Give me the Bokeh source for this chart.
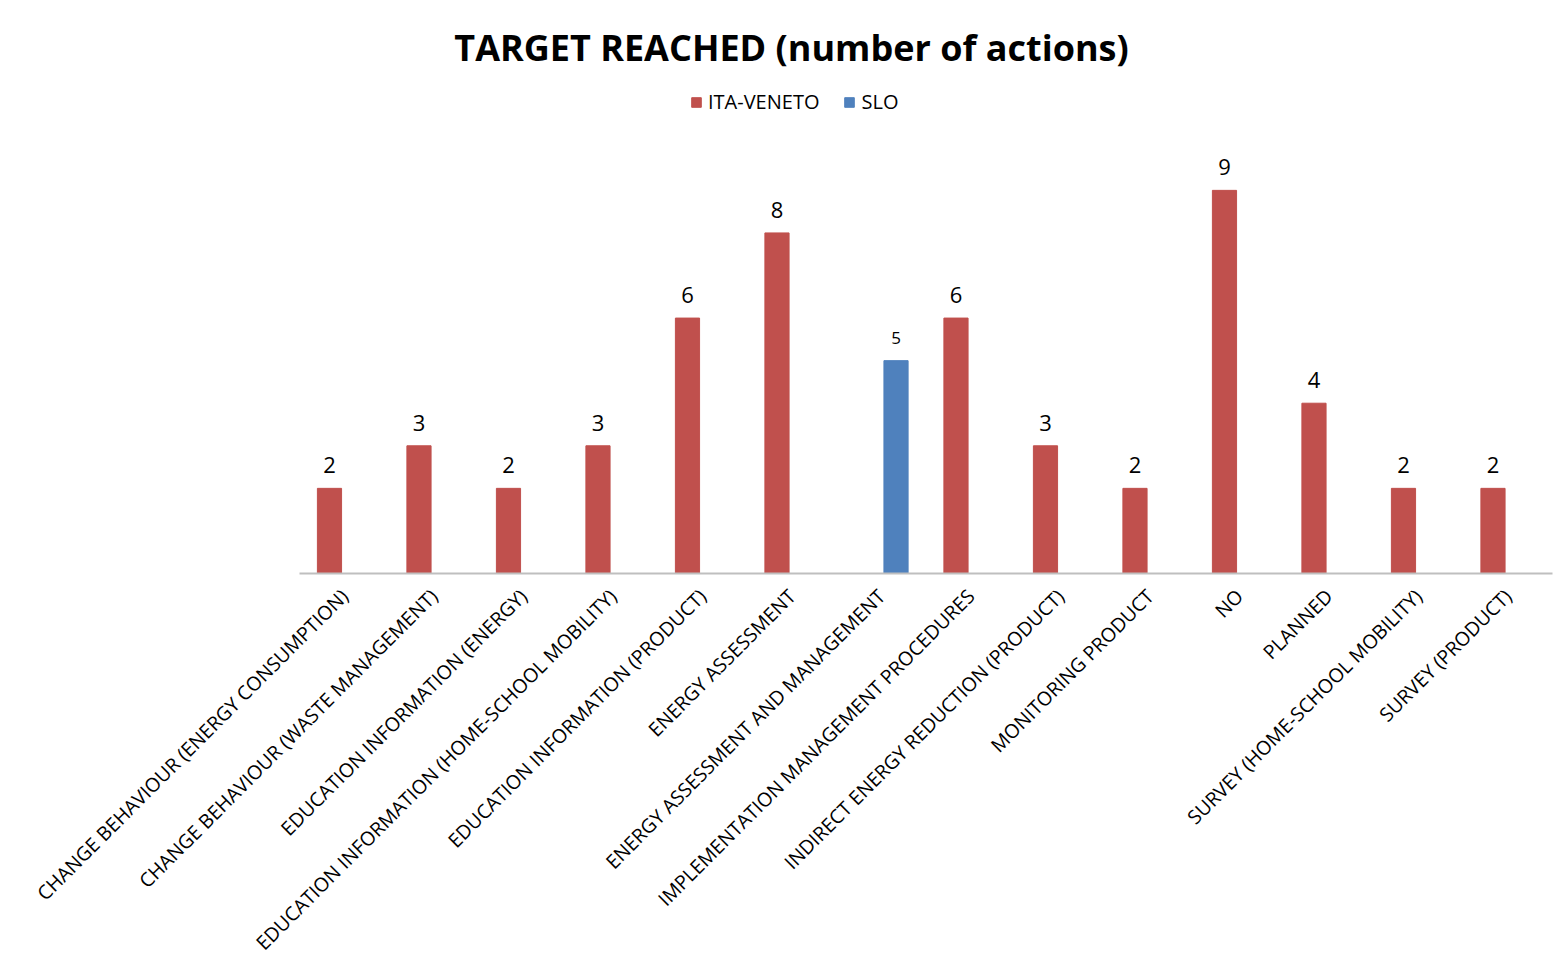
import math
from bokeh.plotting import figure
from bokeh.models import ColumnDataSource, LabelSet, Label, Legend, LegendItem, FactorRange
from bokeh.transform import dodge
from bokeh.core.properties import value
from bokeh.embed import file_html
from bokeh.resources import INLINE

# ---- data ----
categories = [
    "CHANGE BEHAVIOUR (ENERGY CONSUMPTION)",
    "CHANGE BEHAVIOUR (WASTE MANAGEMENT)",
    "EDUCATION INFORMATION (ENERGY)",
    "EDUCATION INFORMATION (HOME-SCHOOL MOBILITY)",
    "EDUCATION INFORMATION (PRODUCT)",
    "ENERGY ASSESSMENT",
    "ENERGY ASSESSMENT AND MANAGEMENT",
    "IMPLEMENTATION MANAGEMENT PROCEDURES",
    "INDIRECT ENERGY REDUCTION (PRODUCT)",
    "MONITORING PRODUCT",
    "NO",
    "PLANNED",
    "SURVEY (HOME-SCHOOL MOBILITY)",
    "SURVEY (PRODUCT)",
]
ita_veneto = [2, 3, 2, 3, 6, 8, None, 6, 3, 2, 9, 4, 2, 2]
slo = [None, None, None, None, None, None, 5, None, None, None, None, None, None, None]

series_names = ["ITA-VENETO", "SLO"]
series_colors = ["#C0504D", "#4F81BD"]
title_text = "TARGET REACHED (number of actions)"
y_top = 13.46  # value axis (0..10) plus room above it for title and legend


def make_source(vals):
    cats = [c for c, v in zip(categories, vals) if v is not None]
    vs = [v for v in vals if v is not None]
    return ColumnDataSource(dict(cat=cats, val=vs, txt=[str(v) for v in vs]))


src_ita = make_source(ita_veneto)
src_slo = make_source(slo)

FONT = "Open Sans"

p = figure(
    x_range=FactorRange(*categories),
    y_range=(0, y_top),
    width=1560,
    height=968,
    output_backend="svg",
    toolbar_location=None,
    y_axis_location=None,
    title=None,
    min_border_left=299,
    min_border_right=8,
    min_border_top=0,
    min_border_bottom=395,
)
p.xgrid.grid_line_color = None
p.ygrid.grid_line_color = None
p.outline_line_color = None
p.background_fill_color = "white"
p.border_fill_color = "white"

ax = p.xaxis[0]
ax.axis_line_color = "#BFBFBF"
ax.axis_line_width = 2
ax.major_tick_line_color = None
ax.minor_tick_line_color = None
ax.major_label_orientation = math.pi / 4
ax.major_label_text_font = FONT
ax.major_label_text_font_size = "19.5px"
ax.major_label_text_color = "#000000"
ax.major_label_standoff = 13

off = 0.165
bw = 0.27
r_ita = p.vbar(x=dodge("cat", -off, range=p.x_range), top="val", width=bw,
               source=src_ita, fill_color=series_colors[0], line_color=series_colors[0])
r_slo = p.vbar(x=dodge("cat", off, range=p.x_range), top="val", width=bw,
               source=src_slo, fill_color=series_colors[1], line_color=series_colors[1])

p.add_layout(LabelSet(x=dodge("cat", -off, range=p.x_range), y="val", text="txt",
                      source=src_ita, text_align="center", text_baseline="bottom",
                      y_offset=15, text_font=value(FONT), text_font_size="22px",
                      text_color="#000000"))
p.add_layout(LabelSet(x=dodge("cat", off, range=p.x_range), y="val", text="txt",
                      source=src_slo, text_align="center", text_baseline="bottom",
                      y_offset=17, text_font=value(FONT), text_font_size="17px",
                      text_color="#000000"))

p.add_layout(Label(x=492, y=526, x_units="screen", y_units="screen", text=title_text,
                   text_align="center", text_baseline="middle", text_font=FONT,
                   text_font_size="36px", text_font_style="bold", text_color="#000000"))

legend = Legend(
    items=[LegendItem(label=series_names[0], renderers=[r_ita]),
           LegendItem(label=series_names[1], renderers=[r_slo])],
    orientation="horizontal",
    location=(391, 458),
    border_line_color=None,
    background_fill_alpha=0,
    padding=0,
    margin=0,
    spacing=24,
    glyph_width=12,
    glyph_height=12,
    label_standoff=6,
    label_text_font=FONT,
    label_text_font_size="20px",
    label_text_color="#000000",
)
p.add_layout(legend)

open("out.html", "w").write(file_html(p, INLINE))
